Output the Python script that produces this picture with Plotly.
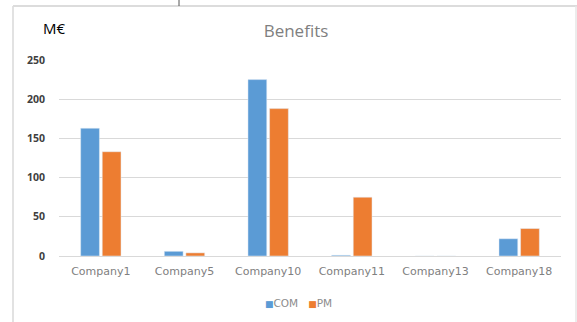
import plotly.graph_objects as go

categories = ["Company1", "Company5", "Company10", "Company11", "Company13", "Company18"]
com_values = [163, 6, 225, 1, 0, 22]
pm_values = [133, 4, 188, 75, 0, 35]
y_ticks = [0, 50, 100, 150, 200, 250]

COM_COLOR = "#5B9BD5"
PM_COLOR = "#ED7D31"

W, H = 577, 322
L, R, T, B = 59, 16, 60, 66
PW, PH = W - L - R, H - T - B


def px(x):
    return (x - L) / PW


def py(y):
    return (H - B - y) / PH


fig = go.Figure()
fig.add_trace(go.Bar(name="COM", x=categories, y=com_values, marker_color=COM_COLOR, showlegend=False))
fig.add_trace(go.Bar(name="PM", x=categories, y=pm_values, marker_color=PM_COLOR, showlegend=False))

legend_text = (f"<span style='color:{COM_COLOR};font-size:9px'>■</span>COM   "
               f"<span style='color:{PM_COLOR};font-size:9px'>■</span>PM")

fig.update_layout(
    width=W, height=H,
    margin=dict(l=L, r=R, t=T, b=B, autoexpand=False),
    paper_bgcolor="white", plot_bgcolor="white",
    barmode="group", bargap=0.484, bargroupgap=0.13,
    font=dict(family="Open Sans, sans-serif", size=12, color="#595959"),
    title=dict(text="Benefits", x=296 / W, xanchor="center", y=1 - 31 / H, yanchor="middle",
               font=dict(size=17, color="#7f7f7f")),
    showlegend=False,
    annotations=[
        dict(text="M€", xref="paper", yref="paper", x=px(54), y=py(28),
             xanchor="center", yanchor="middle", showarrow=False,
             font=dict(size=15, color="#000000")),
        dict(text=legend_text, xref="paper", yref="paper", x=px(298), y=py(303),
             xanchor="center", yanchor="middle", showarrow=False,
             font=dict(family="DejaVu Sans, sans-serif", size=10.5, color="#8c8c8c")),
    ],
    shapes=[
        dict(type="line", xref="paper", yref="paper", x0=px(13), x1=px(13), y0=py(6), y1=py(330),
             line=dict(color="#d9d9d9", width=1.5)),
        dict(type="line", xref="paper", yref="paper", x0=px(13), x1=px(577), y0=py(6), y1=py(6),
             line=dict(color="#dcdcdc", width=2)),
        dict(type="line", xref="paper", yref="paper", x0=px(576), x1=px(576), y0=py(6), y1=py(330),
             line=dict(color="#e6e6e6", width=1.5)),
        dict(type="line", xref="paper", yref="paper", x0=px(179), x1=px(179), y0=py(0), y1=py(6),
             line=dict(color="#555555", width=1)),
    ],
)
fig.update_xaxes(showgrid=False, showline=True, linecolor="#d9d9d9", ticks="", automargin=False,
                 ticklabelstandoff=5,
                 tickfont=dict(family="DejaVu Sans, sans-serif", size=11, color="#808080"))
fig.update_yaxes(range=[0, 250], tickvals=y_ticks, showgrid=True, gridcolor="#d9d9d9",
                 zeroline=False, showline=False, ticks="", ticklabelstandoff=13, automargin=False,
                 tickfont=dict(size=10.5, color="#404040", weight="bold"))

fig.write_html("out.html")
